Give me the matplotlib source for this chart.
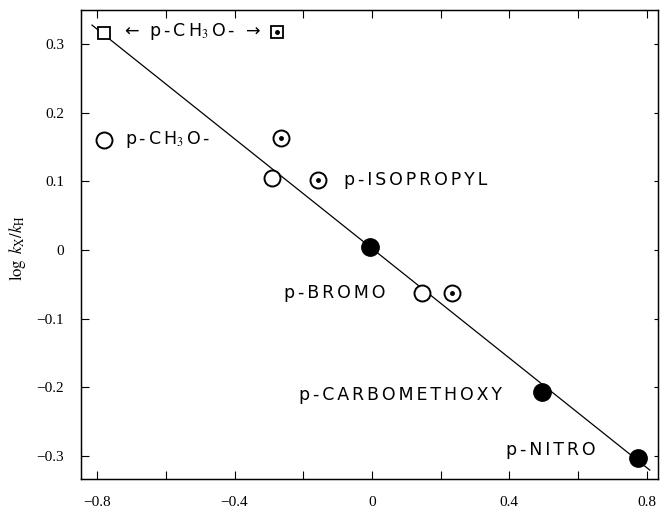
import numpy as np
import matplotlib
matplotlib.use("Agg")
import matplotlib.pyplot as plt
from matplotlib.ticker import MultipleLocator, FixedLocator

plt.rcParams["mathtext.fontset"] = "stix"

# ── data (sigma, log kX/kH) ─────────────────────────────────────────────────
open_sq_x = [-0.78]
open_sq_y = [0.317]
dot_sq_x = [-0.277]
dot_sq_y = [0.318]
open_circ_x = [-0.78, -0.291, 0.146]
open_circ_y = [0.161, 0.105, -0.063]
dot_circ_x = [-0.265, -0.157, 0.233]
dot_circ_y = [0.164, 0.102, -0.063]
filled_x = [-0.006, 0.495, 0.774]
filled_y = [0.004, -0.207, -0.304]
fit_x = [-0.815, 0.809]
fit_y = [0.328, -0.321]

xtick_vals = [-0.8, -0.4, 0, 0.4, 0.8]
xtick_labels = ["\u22120.8", "\u22120.4", "0", "0.4", "0.8"]
ytick_vals = [-0.3, -0.2, -0.1, 0, 0.1, 0.2, 0.3]
ytick_labels = ["\u22120.3", "\u22120.2", "\u22120.1", "0", "0.1", "0.2", "0.3"]

# label pieces (a piece is one glyph or a mathtext chunk), x, y
labels = [
    (["\u2190", " ", "p", "-", "C", "H$_3$", "O", "-", " ", "\u2192"], -0.722, 0.318),
    (["p", "-", "C", "H$_3$", "O", "-"], -0.718, 0.161),
    (list("p-ISOPROPYL"), -0.080, 0.102),
    (list("p-BROMO"), -0.256, -0.063),
    (list("p-CARBOMETHOXY"), -0.212, -0.211),
    (list("p-NITRO"), 0.391, -0.292),
]

SP = "\u2006"  # six-per-em space used as letter spacing


def spaced(pieces):
    return SP.join(pieces)


fig = plt.figure(figsize=(6.65, 5.13), dpi=100)
ax = fig.add_axes([0.1218, 0.0663, 0.8677, 0.9142])

ax.plot(fit_x, fit_y, color="black", lw=0.9, zorder=2)

ax.plot(open_sq_x, open_sq_y, ls="none", marker="s", ms=9, mfc="white",
        mec="black", mew=1.3, zorder=3)
ax.plot(dot_sq_x, dot_sq_y, ls="none", marker="s", ms=9, mfc="white",
        mec="black", mew=1.3, zorder=3)
ax.plot(open_circ_x, open_circ_y, ls="none", marker="o", ms=11.5, mfc="white",
        mec="black", mew=1.4, zorder=3)
ax.plot(dot_circ_x, dot_circ_y, ls="none", marker="o", ms=11.5, mfc="white",
        mec="black", mew=1.4, zorder=3)
ax.plot(dot_circ_x + dot_sq_x, dot_circ_y + dot_sq_y, ls="none", marker="o",
        ms=2.5, color="black", zorder=4)
ax.plot(filled_x, filled_y, ls="none", marker="o", ms=12.5, color="black", zorder=3)

for pieces, x, y in labels:
    ax.text(x, y, spaced(pieces), fontsize=12.5, family="DejaVu Sans",
            ha="left", va="center", color="black")

ax.set_xlim(-0.847, 0.833)
ax.set_ylim(-0.334, 0.350)

ax.xaxis.set_major_locator(FixedLocator(xtick_vals))
ax.set_xticklabels(xtick_labels)
ax.xaxis.set_minor_locator(MultipleLocator(0.2))
ax.yaxis.set_major_locator(FixedLocator(ytick_vals))
ax.set_yticklabels(ytick_labels)

ax.tick_params(which="both", direction="in", top=True, right=True,
               length=6, width=0.8)
ax.tick_params(axis="y", which="both", right=False)
ax.tick_params(axis="x", pad=12)
ax.tick_params(axis="y", pad=12)
# short ticks on the right edge
ax2 = ax.twinx()
ax2.set_ylim(ax.get_ylim())
ax2.yaxis.set_major_locator(FixedLocator(ytick_vals))
ax2.tick_params(direction="in", length=3, width=0.8, labelright=False)

for lab in ax.get_xticklabels() + ax.get_yticklabels():
    lab.set_fontfamily("Liberation Serif")
    lab.set_fontsize(11)

for sp in ax.spines.values():
    sp.set_linewidth(1.0)

fig.text(18 / 665, 1 - 248 / 513, r"$\log\ k_{\rm X}/k_{\rm H}$", rotation=90,
         ha="center", va="center", fontsize=12)

fig.savefig("out.png", dpi=100)
